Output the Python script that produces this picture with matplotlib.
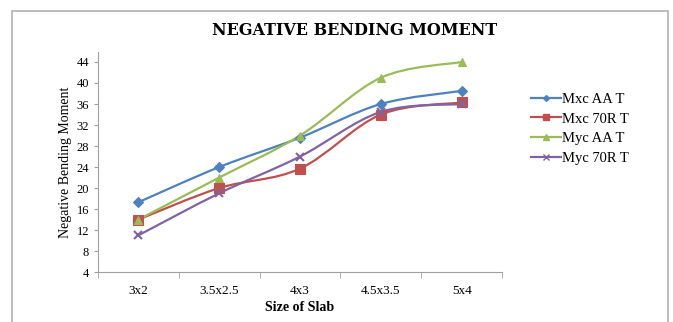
import numpy as np
import matplotlib.pyplot as plt
from matplotlib.path import Path
from matplotlib.patches import PathPatch, Rectangle
from matplotlib.lines import Line2D

# ── Data ──────────────────────────────────────────────────────────────────────
SIZES      = ['3x2', '3.5x2.5', '4x3', '4.5x3.5', '5x4']
MXC_AA_T   = [17.3, 24.0, 29.6, 36.0, 38.5]
MXC_70R_T  = [14.0, 20.0, 23.7, 34.0, 36.3]
MYC_AA_T   = [14.0, 22.0, 30.0, 41.0, 44.0]
MYC_70R_T  = [11.0, 19.0, 26.0, 34.5, 36.0]
SERIES     = ['Mxc AA T', 'Mxc 70R T', 'Myc AA T', 'Myc 70R T']
Y_TICKS    = [4, 8, 12, 16, 20, 24, 28, 32, 36, 40, 44]
# ─────────────────────────────────────────────────────────────────────────────

COLORS  = ['#4F81BD', '#C0504D', '#9BBB59', '#8064A2']
MARKERS = ['D', 's', '^', 'x']
MSIZES  = [5, 7, 6, 6]

plt.rcParams['font.family'] = ['Liberation Serif', 'DejaVu Serif']


def smooth_path(x, y):
    # Excel-style smoothed line: cubic Bezier through each point
    pts = np.column_stack([x, y]).astype(float)
    n = len(pts)
    verts = [pts[0]]
    codes = [Path.MOVETO]
    for i in range(n - 1):
        p0 = pts[max(i - 1, 0)]
        p1 = pts[i]
        p2 = pts[i + 1]
        p3 = pts[min(i + 2, n - 1)]
        c1 = p1 + (p2 - p0) / 6.0
        c2 = p2 - (p3 - p1) / 6.0
        verts += [c1, c2, p2]
        codes += [Path.CURVE4] * 3
    return Path(verts, codes)


fig = plt.figure(figsize=(6.73, 3.22), dpi=100)
ax = fig.add_axes([0.1456, 0.155, 0.6004, 0.6835])

x = np.arange(len(SIZES))
data = [MXC_AA_T, MXC_70R_T, MYC_AA_T, MYC_70R_T]
handles = []
for vals, name, c, m, ms in zip(data, SERIES, COLORS, MARKERS, MSIZES):
    ax.add_patch(PathPatch(smooth_path(x, vals), facecolor='none',
                           edgecolor=c, linewidth=1.6))
    ax.plot(x, vals, linestyle='none', marker=m, color=c, markersize=ms,
            markeredgewidth=1.5 if m == 'x' else 0.8)
    handles.append(Line2D([], [], color=c, marker=m, markersize=ms - 2,
                          linewidth=1.6, label=name))

ax.set_xlim(-0.5, len(SIZES) - 0.5)
ax.set_ylim(4, 45.9)
ax.set_xticks(x)
ax.set_xticklabels(SIZES, fontsize=9.5)
ax.set_yticks(Y_TICKS)
ax.set_yticklabels([str(t) for t in Y_TICKS], fontsize=9)
for s in ['top', 'right']:
    ax.spines[s].set_visible(False)
for s in ['left', 'bottom']:
    ax.spines[s].set_color('#A0A0A0')
ax.tick_params(axis='y', length=3, color='#A0A0A0')
ax.tick_params(axis='x', length=0, pad=9)
ax.set_xticks(np.arange(-0.5, len(SIZES), 1), minor=True)
ax.tick_params(axis='x', which='minor', length=4, color='#A0A0A0')

ax.set_xlabel('Size of Slab', fontsize=10, fontweight='bold', labelpad=3)
ax.set_ylabel('Negative Bending Moment', fontsize=10, labelpad=3)
fig.text(0.527, 0.905, 'NEGATIVE BENDING MOMENT', ha='center', va='center',
         fontsize=11.5, fontweight='bold', family=['DejaVu Serif'])

fig.legend(handles=handles, loc='center left', bbox_to_anchor=(0.77, 0.6),
           frameon=False, fontsize=10.5, handlelength=2.0, handletextpad=0.1,
           labelspacing=0.45)

fig.patches.append(Rectangle((0.018, -0.01), 0.975, 0.975, transform=fig.transFigure,
                             facecolor='none', edgecolor='#B0B0B0', linewidth=1.2))

fig.savefig('out.png', dpi=100)
